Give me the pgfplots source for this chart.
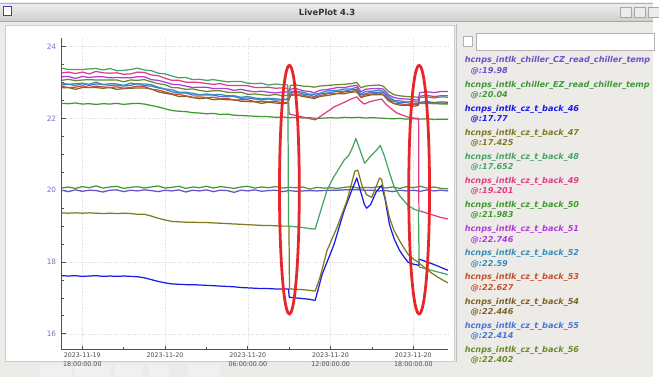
\documentclass[border=0pt]{standalone}
\usepackage{fontspec}
\setmainfont{DejaVu Sans}
\usepackage{pgfplots}
\pgfplotsset{compat=1.18}
\definecolor{cCZ}{HTML}{6B4FCB}
\definecolor{cEZ}{HTML}{3E9A38}
\definecolor{c46}{HTML}{1A1AE6}
\definecolor{c47}{HTML}{7F7A1F}
\definecolor{c48}{HTML}{45A565}
\definecolor{c49}{HTML}{E23C86}
\definecolor{c50}{HTML}{3D9B2E}
\definecolor{c51}{HTML}{B03ADA}
\definecolor{c52}{HTML}{3A8DB8}
\definecolor{c53}{HTML}{C5502C}
\definecolor{c54}{HTML}{7D6426}
\definecolor{c55}{HTML}{4A74D5}
\definecolor{c56}{HTML}{6B8A2A}
\definecolor{winbg}{HTML}{EDEBE8}
\definecolor{titletop}{HTML}{EEEEEE}
\definecolor{titlebot}{HTML}{CFCFCF}
\definecolor{axisgray}{HTML}{505050}
\definecolor{ylab}{HTML}{7E6ED6}
\definecolor{ellred}{HTML}{E8262A}
\begin{document}
\begin{tikzpicture}[x=1bp,y=1bp]
\fill[white] (0,0) rectangle (659,-381);
\fill[winbg] (0,-21) rectangle (659,-381);
\shade[top color=titletop, bottom color=titlebot] (0,-3) rectangle (659,-21);
\draw[gray!60] (0,-3) -- (659,-3);
\draw[gray!70] (0,-21) -- (659,-21);
\node[font=\bfseries\fontsize{8.5bp}{10bp}\selectfont, text=black!80] at (330,-12) {LivePlot 4.3};
\draw[blue!50!gray, line width=0.8bp, fill=white] (3,-6) rectangle (11,-16);
\foreach \bx in {626,640,654}{\draw[gray!70, fill=gray!15] (\bx,-7) rectangle ({\bx+11},-17);}
\fill[white] (5,-25) rectangle (458,-365);
\draw[gray!40] (5,-25) rectangle (458,-365);
\draw[gray!50] (460.5,-24) -- (460.5,-366);
\draw[gray!60, fill=white] (467,-37) rectangle (477,-47);
\draw[gray!60, fill=white] (481,-34) rectangle (660,-51);
\foreach \ax/\bw in {40/33,76/36,116/27,150/20,190/32}{\fill[gray!12] (\ax,-369) rectangle ({\ax+\bw},-381);}
\begin{axis}[
  at={(62bp,-353bp)}, anchor=south west, scale only axis,
  width=390bp, height=315bp,
  xmin=-1.5, xmax=26.5, ymin=15.56, ymax=24.25,
  axis x line=bottom, axis y line=left,
  axis line style={-, draw=axisgray, line width=1.2bp},
  xtick={0,6,12,18,24},
  minor xtick={3,9,15,21},
  xticklabels={{2023-11-19\\18:00:00.00},{2023-11-20},{2023-11-20\\06:00:00.00},{2023-11-20\\12:00:00.00},{2023-11-20\\18:00:00.00}},
  ytick={16,18,20,22,24},
  minor y tick num=3,
  tick align=inside,
  major tick length=4bp, minor tick length=2.5bp,
  tick style={axisgray, line width=0.8bp},
  grid=major,
  major grid style={dotted, gray!30, line width=0.6bp},
  /pgf/number format/assume math mode=true,
  xticklabel style={font=\fontsize{6.4bp}{8.7bp}\selectfont, align=center, text=black!70, inner sep=0pt, yshift=-3bp},
  yticklabel style={font=\fontsize{7.4bp}{9bp}\selectfont, text=ylab, inner sep=0pt, xshift=-5.3bp},
  every axis plot/.append style={line width=1.25bp, line join=round},
]
% chiller CZ
\addplot[color=cCZ] coordinates {(-1.5,20.00) (-1,19.96) (-0.5,20.01) (0,19.97) (0.5,20.00) (1,19.99) (1.5,19.95) (2,20.00) (2.5,20.01) (3,19.96) (3.5,20.00) (4,19.98) (4.5,20.01) (5,19.99) (5.5,19.96) (6,20.00) (6.5,19.98) (7,20.01) (7.5,19.95) (8,20.00) (8.5,19.98) (9,20.01) (9.5,19.96) (10,20.00) (10.5,19.99) (11,19.94) (11.5,20.00) (12,19.98) (12.5,20.01) (13,19.97) (13.5,19.99) (14,20.00) (14.5,19.96) (15,19.99) (15.5,19.97) (16,19.98) (16.5,19.99) (17,19.98) (17.5,19.99) (18,20.00) (18.5,20.00) (19,20.01) (19.5,20.02) (20,20.01) (20.5,20.00) (21,20.00) (21.5,19.98) (22,19.99) (22.5,19.96) (23,20.00) (23.5,19.98) (24,20.00) (24.5,19.97) (25,20.01) (25.5,19.98) (26,20.00) (26.5,19.98)};
% chiller EZ
\addplot[color=cEZ] coordinates {(-1.5,20.06) (-1,20.09) (-0.5,20.05) (0,20.10) (0.5,20.07) (1,20.12) (1.5,20.06) (2,20.09) (2.5,20.11) (3,20.05) (3.5,20.08) (4,20.10) (4.5,20.06) (5,20.09) (5.5,20.12) (6,20.06) (6.5,20.08) (7,20.11) (7.5,20.05) (8,20.09) (8.5,20.07) (9,20.11) (9.5,20.06) (10,20.10) (10.5,20.08) (11,20.05) (11.5,20.09) (12,20.11) (12.5,20.06) (13,20.09) (13.5,20.07) (14,20.10) (14.5,20.06) (15,20.08) (15.5,20.07) (16,20.09) (16.5,20.03) (17,20.08) (17.5,20.06) (18,20.07) (18.5,20.05) (19,20.08) (19.5,20.10) (20,20.06) (20.5,20.08) (21,20.07) (21.5,20.10) (22,20.06) (22.5,20.09) (23,20.05) (23.5,20.10) (24,20.07) (24.5,20.11) (25,20.06) (25.5,20.09) (26,20.05) (26.5,20.04)};
% 46
\addplot[color=c46] coordinates {(-1.5,17.62) (-1,17.61) (-0.5,17.62) (0,17.60) (0.5,17.61) (1,17.62) (1.5,17.60) (2,17.61) (2.5,17.60) (3,17.61) (3.5,17.60) (4,17.59) (4.5,17.56) (5,17.51) (5.5,17.46) (6,17.42) (6.5,17.39) (7,17.38) (7.5,17.37) (8,17.37) (8.5,17.36) (9,17.35) (9.5,17.34) (10,17.33) (10.5,17.32) (11,17.31) (11.5,17.29) (12,17.28) (12.5,17.27) (13,17.26) (13.5,17.26) (14,17.25) (14.5,17.25) (14.95,17.25) (15.0,17.02) (15.5,17.00) (16,16.98) (16.5,16.96) (16.88,16.93) (17.39,17.66) (18.25,18.49) (18.97,19.42) (19.54,20.0) (19.9,20.34) (20.15,20.0) (20.45,19.6) (20.62,19.5) (20.9,19.6) (21.3,19.95) (21.7,20.14) (21.95,19.75) (22.27,19.04) (22.6,18.65) (22.99,18.33) (23.3,18.15) (23.63,17.99) (24.0,17.94) (24.38,17.91) (24.42,18.08) (25,18.0) (25.5,17.93) (26,17.85) (26.5,17.77)};
% 47
\addplot[color=c47] coordinates {(-1.5,19.37) (-1,19.36) (-0.5,19.37) (0,19.36) (0.5,19.37) (1,19.36) (1.5,19.35) (2,19.36) (2.5,19.35) (3,19.36) (3.5,19.35) (4,19.33) (4.5,19.33) (5,19.28) (5.5,19.22) (6,19.17) (6.5,19.13) (7,19.12) (7.5,19.11) (8,19.11) (8.5,19.10) (9,19.10) (9.5,19.09) (10,19.08) (10.5,19.07) (11,19.06) (11.5,19.05) (12,19.04) (12.5,19.03) (13,19.02) (13.5,19.02) (14,19.01) (14.5,19.00) (14.98,19.0) (15.02,17.25) (15.5,17.24) (16,17.23) (16.5,17.21) (16.88,17.19) (17.24,17.58) (17.74,18.32) (18.46,18.96) (19.18,19.7) (19.76,20.53) (19.97,20.56) (20.3,20.1) (20.62,19.87) (20.98,19.8) (21.3,20.1) (21.55,20.34) (21.7,20.3) (21.95,19.8) (22.27,19.23) (22.6,18.88) (22.99,18.6) (23.3,18.4) (23.63,18.21) (24.0,18.08) (24.35,17.99) (24.8,17.85) (25.3,17.7) (25.8,17.57) (26.5,17.42)};
% 50
\addplot[color=c50] coordinates {(-1.5,22.42) (-1,22.41) (-0.5,22.43) (0,22.40) (0.5,22.41) (1,22.39) (1.5,22.41) (2,22.40) (2.5,22.42) (3,22.39) (3.5,22.41) (4,22.42) (4.5,22.40) (5,22.36) (5.5,22.32) (6,22.27) (6.5,22.22) (7,22.20) (7.5,22.19) (8,22.16) (8.5,22.15) (9,22.13) (9.5,22.14) (10,22.11) (10.5,22.12) (11,22.09) (11.5,22.08) (12,22.07) (12.5,22.06) (13,22.05) (13.5,22.05) (14,22.03) (14.5,22.04) (15,22.02) (15.5,22.03) (16,22.01) (16.5,22.02) (17,22.00) (17.5,22.01) (18,22.02) (18.5,22.01) (19,22.03) (19.5,22.02) (20,22.03) (20.5,22.01) (21,22.02) (21.5,22.01) (22,22.00) (22.5,21.99) (23,22.00) (23.5,21.98) (24,21.99) (24.5,21.98) (25,21.99) (25.5,21.97) (26,21.98) (26.5,21.98)};
% 54
\addplot[color=c54] coordinates {(-1.5,22.85) (-1,22.86) (-0.5,22.81) (0,22.86) (0.5,22.86) (1,22.86) (1.5,22.84) (2,22.86) (2.5,22.81) (3,22.83) (3.5,22.84) (4,22.85) (4.5,22.85) (5,22.82) (5.5,22.74) (6,22.70) (6.5,22.67) (7,22.61) (7.5,22.62) (8,22.58) (8.5,22.55) (9,22.57) (9.5,22.52) (10,22.54) (10.5,22.52) (11,22.52) (11.5,22.48) (12,22.47) (12.5,22.46) (13,22.42) (13.5,22.45) (14,22.43) (14.5,22.41) (14.9,22.43) (15.1,22.64) (15.5,22.66) (16,22.61) (16.5,22.58) (16.8,22.55) (17.2,22.61) (17.8,22.64) (18.5,22.69) (19.0,22.69) (19.5,22.73) (19.9,22.74) (20.2,22.58) (20.5,22.62) (21.0,22.66) (21.5,22.66) (21.8,22.66) (22.2,22.49) (22.6,22.41) (23.0,22.37) (23.5,22.37) (24.0,22.34) (24.35,22.36) (24.45,22.45) (25,22.47) (25.5,22.44) (26,22.46) (26.5,22.45)};
% 53
\addplot[color=c53] coordinates {(-1.5,22.89) (-1,22.86) (-0.5,22.87) (0,22.91) (0.5,22.86) (1,22.90) (1.5,22.88) (2,22.86) (2.5,22.88) (3,22.84) (3.5,22.86) (4,22.90) (4.5,22.89) (5,22.81) (5.5,22.79) (6,22.74) (6.5,22.68) (7,22.67) (7.5,22.63) (8,22.59) (8.5,22.60) (9,22.58) (9.5,22.59) (10,22.55) (10.5,22.56) (11,22.51) (11.5,22.52) (12,22.52) (12.5,22.47) (13,22.48) (13.5,22.46) (14,22.48) (14.5,22.43) (14.9,22.45) (15.1,22.68) (15.5,22.66) (16,22.65) (16.5,22.60) (16.8,22.59) (17.2,22.63) (17.8,22.69) (18.5,22.70) (19.0,22.74) (19.5,22.75) (19.9,22.79) (20.2,22.58) (20.5,22.67) (21.0,22.68) (21.5,22.71) (21.8,22.67) (22.2,22.54) (22.6,22.42) (23.0,22.41) (23.5,22.38) (24.0,22.39) (24.35,22.38) (24.45,22.62) (25,22.64) (25.5,22.61) (26,22.63) (26.5,22.63)};
% 55
\addplot[color=c55] coordinates {(-1.5,22.93) (-1,22.95) (-0.5,22.92) (0,22.97) (0.5,22.92) (1,22.96) (1.5,22.95) (2,22.92) (2.5,22.93) (3,22.90) (3.5,22.92) (4,22.97) (4.5,22.91) (5,22.90) (5.5,22.85) (6,22.81) (6.5,22.74) (7,22.71) (7.5,22.71) (8,22.65) (8.5,22.65) (9,22.65) (9.5,22.65) (10,22.61) (10.5,22.61) (11,22.61) (11.5,22.56) (12,22.57) (12.5,22.54) (13,22.52) (13.5,22.54) (14,22.51) (14.5,22.51) (14.9,22.53) (15.1,22.71) (15.5,22.73) (16,22.68) (16.5,22.65) (16.8,22.61) (17.2,22.68) (17.8,22.71) (18.5,22.76) (19.0,22.76) (19.5,22.80) (19.9,22.81) (20.2,22.65) (20.5,22.69) (21.0,22.73) (21.5,22.73) (21.8,22.73) (22.2,22.56) (22.6,22.48) (23.0,22.44) (23.5,22.44) (24.0,22.41) (24.35,22.42) (24.45,22.42) (25,22.44) (25.5,22.41) (26,22.43) (26.5,22.41)};
% 52
\addplot[color=c52] coordinates {(-1.5,22.99) (-1,22.95) (-0.5,22.97) (0,22.98) (0.5,22.95) (1,23.01) (1.5,22.94) (2,22.97) (2.5,22.96) (3,22.92) (3.5,22.98) (4,22.96) (4.5,22.96) (5,22.94) (5.5,22.87) (6,22.82) (6.5,22.80) (7,22.73) (7.5,22.73) (8,22.70) (8.5,22.66) (9,22.68) (9.5,22.66) (10,22.67) (10.5,22.63) (11,22.63) (11.5,22.59) (12,22.61) (12.5,22.57) (13,22.55) (13.5,22.56) (14,22.55) (14.5,22.52) (14.9,22.55) (15.1,22.76) (15.5,22.75) (16,22.73) (16.5,22.67) (16.8,22.67) (17.2,22.70) (17.8,22.77) (18.5,22.78) (19.0,22.82) (19.5,22.82) (19.9,22.87) (20.2,22.67) (20.5,22.75) (21.0,22.76) (21.5,22.79) (21.8,22.75) (22.2,22.62) (22.6,22.50) (23.0,22.49) (23.5,22.46) (24.0,22.47) (24.35,22.45) (24.45,22.58) (25,22.60) (25.5,22.57) (26,22.60) (26.5,22.59)};
% 56
\addplot[color=c56] coordinates {(-1.5,23.06) (-1,23.09) (-0.5,23.05) (0,23.07) (0.5,23.08) (1,23.07) (1.5,23.07) (2,23.07) (2.5,23.07) (3,23.02) (3.5,23.07) (4,23.06) (4.5,23.08) (5,23.02) (5.5,22.97) (6,22.94) (6.5,22.86) (7,22.85) (7.5,22.81) (8,22.82) (8.5,22.78) (9,22.75) (9.5,22.77) (10,22.77) (10.5,22.73) (11,22.72) (11.5,22.73) (12,22.67) (12.5,22.68) (13,22.66) (13.5,22.64) (14,22.67) (14.5,22.63) (14.9,22.64) (15.1,22.92) (15.5,22.93) (16,22.90) (16.5,22.89) (16.8,22.87) (17.2,22.90) (17.8,22.92) (18.5,22.94) (19.0,22.95) (19.5,22.97) (19.9,23.00) (20.2,22.85) (20.5,22.90) (21.0,22.92) (21.5,22.93) (21.8,22.90) (22.2,22.75) (22.6,22.66) (23.0,22.63) (23.5,22.61) (24.0,22.60) (24.35,22.59) (24.45,22.42) (25,22.41) (25.5,22.42) (26,22.40) (26.5,22.40)};
% 51
\addplot[color=c51] coordinates {(-1.5,23.16) (-1,23.17) (-0.5,23.11) (0,23.17) (0.5,23.14) (1,23.16) (1.5,23.16) (2,23.13) (2.5,23.14) (3,23.13) (3.5,23.13) (4,23.16) (4.5,23.16) (5,23.08) (5.5,23.06) (6,23.01) (6.5,22.95) (7,22.94) (7.5,22.90) (8,22.86) (8.5,22.87) (9,22.87) (9.5,22.83) (10,22.83) (10.5,22.83) (11,22.78) (11.5,22.81) (12,22.77) (12.5,22.74) (13,22.76) (13.5,22.73) (14,22.71) (14.5,22.73) (14.9,22.74) (15.1,22.82) (15.5,22.83) (16,22.77) (16.5,22.75) (16.8,22.71) (17.2,22.78) (17.8,22.81) (18.5,22.86) (19.0,22.86) (19.5,22.90) (19.9,22.92) (20.2,22.74) (20.5,22.81) (21.0,22.83) (21.5,22.83) (21.8,22.82) (22.2,22.66) (22.6,22.58) (23.0,22.55) (23.5,22.54) (24.0,22.52) (24.35,22.51) (24.45,22.72) (25,22.74) (25.5,22.72) (26,22.75) (26.5,22.75)};
% 49
\addplot[color=c49] coordinates {(-1.5,23.27) (-1,23.29) (-0.5,23.25) (0,23.29) (0.5,23.24) (1,23.31) (1.5,23.27) (2,23.26) (2.5,23.27) (3,23.23) (3.5,23.24) (4,23.29) (4.5,23.28) (5,23.21) (5.5,23.19) (6,23.12) (6.5,23.06) (7,23.06) (7.5,23.01) (8,23.01) (8.5,23.00) (9,22.97) (9.5,22.95) (10,22.97) (10.5,22.92) (11,22.92) (11.5,22.92) (12,22.91) (12.5,22.86) (13,22.86) (13.5,22.87) (14,22.84) (14.5,22.85) (14.9,22.84) (15.0,22.12) (15.5,22.08) (16,22.04) (16.5,21.99) (16.88,21.96) (17.5,22.12) (18.25,22.32) (19.0,22.45) (19.54,22.55) (19.9,22.60) (20.2,22.47) (20.45,22.40) (20.8,22.46) (21.2,22.50) (21.7,22.54) (22.0,22.40) (22.3,22.30) (22.8,22.15) (23.5,22.05) (24.0,22.01) (24.38,22.00) (24.4,19.43) (25,19.36) (25.5,19.30) (26,19.24) (26.5,19.20)};
% 48
\addplot[color=c48] coordinates {(-1.5,23.40) (-1,23.36) (-0.5,23.36) (0,23.36) (0.5,23.38) (1,23.39) (1.5,23.35) (2,23.39) (2.5,23.33) (3,23.34) (3.5,23.36) (4,23.40) (4.5,23.35) (5,23.33) (5.5,23.26) (6,23.24) (6.5,23.18) (7,23.13) (7.5,23.14) (8,23.08) (8.5,23.09) (9,23.06) (9.5,23.08) (10,23.05) (10.5,23.02) (11,23.03) (11.5,23.03) (12,22.98) (12.5,22.97) (13,22.98) (13.5,22.93) (14,22.96) (14.5,22.94) (14.9,22.93) (14.95,19.00) (15.5,18.98) (16,18.96) (16.5,18.93) (16.88,18.92) (17.3,19.45) (17.74,20.00) (18.2,20.35) (18.6,20.60) (19.0,20.85) (19.32,20.97) (19.6,21.20) (19.83,21.44) (20.15,21.10) (20.47,20.75) (20.9,20.95) (21.3,21.10) (21.6,21.25) (21.9,20.95) (22.3,20.45) (22.6,20.10) (23.0,19.85) (23.6,19.58) (24.0,19.48) (24.37,19.43) (24.42,17.86) (25,17.80) (25.5,17.75) (26,17.70) (26.5,17.65)};
\end{axis}
\draw[ellred, line width=2.8bp] (292,-191.5) ellipse [x radius=10, y radius=125.5];
\draw[ellred, line width=2.8bp] (423,-191.5) ellipse [x radius=10.5, y radius=125.5];
\foreach \n/\v/\c [count=\k from 0] in {chiller\_CZ\_read\_chiller\_temp/19.98/cCZ, chiller\_EZ\_read\_chiller\_temp/20.04/cEZ, cz\_t\_back\_46/17.77/c46, cz\_t\_back\_47/17.425/c47, cz\_t\_back\_48/17.652/c48, cz\_t\_back\_49/19.201/c49, cz\_t\_back\_50/21.983/c50, cz\_t\_back\_51/22.746/c51, cz\_t\_back\_52/22.59/c52, cz\_t\_back\_53/22.627/c53, cz\_t\_back\_54/22.446/c54, cz\_t\_back\_55/22.414/c55, cz\_t\_back\_56/22.402/c56}{
  \node[anchor=base west, inner sep=0pt, text=\c, font=\fontsize{8.2bp}{10bp}\selectfont\bfseries\itshape] at (469,{-63.5-24.35*\k}) {hcnps\_intlk\_\n};
  \node[anchor=base west, inner sep=0pt, text=\c, font=\fontsize{8.2bp}{10bp}\selectfont\bfseries\itshape] at (475,{-74-24.35*\k}) {@:\v};
}
\end{tikzpicture}
\end{document}
